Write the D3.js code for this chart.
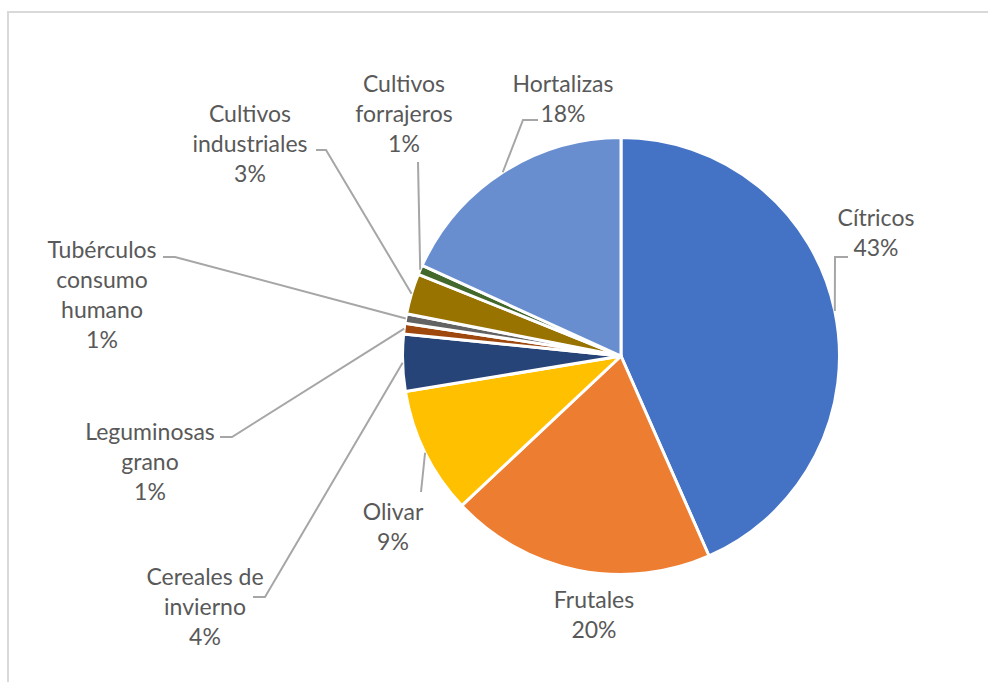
<!DOCTYPE html>
<html>
<head>
<meta charset="utf-8">
<script src="https://cdn.jsdelivr.net/npm/d3@7"></script>
<style>
  html, body { margin: 0; padding: 0; background: #fff; }
  svg { display: block; }
</style>
</head>
<body>
<svg id="chart" width="988" height="682"></svg>
<script>
// Crop area shares (%), clockwise from 12 o'clock
const categories = [
  "Cítricos", "Frutales", "Olivar", "Cereales de invierno",
  "Leguminosas grano", "Tubérculos consumo humano",
  "Cultivos industriales", "Cultivos forrajeros", "Hortalizas"
];
const shares = [43.4, 19.6, 9.4, 4.2, 0.8, 0.7, 3.0, 0.7, 18.2];
const colors = ["#4472C4", "#ED7D31", "#FFC000", "#264478", "#9E480E",
                "#636363", "#997300", "#43682B", "#698ED0"];
// Category names broken into label lines
const labelLines = [
  ["Cítricos"], ["Frutales"], ["Olivar"], ["Cereales de", "invierno"],
  ["Leguminosas", "grano"], ["Tubérculos", "consumo", "humano"],
  ["Cultivos", "industriales"], ["Cultivos", "forrajeros"], ["Hortalizas"]
];

// Label layout: text centre x, first baseline y, leader anchor and elbow
const labelLayout = [
  { x: 876, y: 226, anchor: [848, 257], elbow: [835, 257] },
  { x: 594, y: 608, anchor: null },
  { x: 393, y: 520, anchor: [421, 492], elbow: null },
  { x: 205, y: 585, anchor: [253, 597], elbow: [265, 597] },
  { x: 150, y: 440, anchor: [220, 437], elbow: [232, 437] },
  { x: 102, y: 258, anchor: [163, 257], elbow: [175, 257] },
  { x: 250, y: 122, anchor: [316, 150], elbow: [326, 150] },
  { x: 404, y: 92,  anchor: [418, 162], elbow: null },
  { x: 563, y: 92,  anchor: [538, 120], elbow: [523, 120] }
];

const svg = d3.select("#chart");
const cx = 621, cy = 356, R = 218.5;
const lineH = 30;

// Chart area frame
svg.append("rect")
  .attr("x", 8).attr("y", 12)
  .attr("width", 1000).attr("height", 700)
  .attr("fill", "#fff")
  .attr("stroke", "#d9d9d9").attr("stroke-width", 2);

const pie = d3.pie().value(d => d).sort(null);
const arcs = pie(shares);
const arc = d3.arc().innerRadius(0).outerRadius(R);

const g = svg.append("g").attr("transform", `translate(${cx},${cy})`);
g.selectAll("path.slice")
  .data(arcs)
  .join("path")
  .attr("class", "slice")
  .attr("d", arc)
  .attr("fill", (d, i) => colors[i])
  .attr("stroke", "#fff")
  .attr("stroke-width", 3)
  .attr("stroke-linejoin", "round");

// Leader lines from each slice's outer mid-point to its label
const leaders = svg.append("g");
arcs.forEach((a, i) => {
  const L = labelLayout[i];
  if (!L.anchor) return;
  const mid = (a.startAngle + a.endAngle) / 2;
  const px = cx + R * Math.sin(mid);
  const py = cy - R * Math.cos(mid);
  const pts = [[px, py]];
  if (L.elbow) pts.push(L.elbow);
  pts.push(L.anchor);
  leaders.append("path")
    .attr("d", d3.line()(pts))
    .attr("fill", "none")
    .attr("stroke", "#a6a6a6")
    .attr("stroke-width", 2);
});

// Data labels: category name and rounded share
const labels = svg.append("g")
  .attr("font-family", "Lato, 'Open Sans', sans-serif")
  .attr("font-size", 23)
  .attr("fill", "#595959")
  .attr("text-anchor", "middle");
arcs.forEach((a, i) => {
  const L = labelLayout[i];
  const lines = labelLines[i].concat([Math.round(shares[i]) + "%"]);
  const t = labels.append("text");
  lines.forEach((s, k) => {
    t.append("tspan").attr("x", L.x).attr("y", L.y + k * lineH).text(s);
  });
});
</script>
</body>
</html>
